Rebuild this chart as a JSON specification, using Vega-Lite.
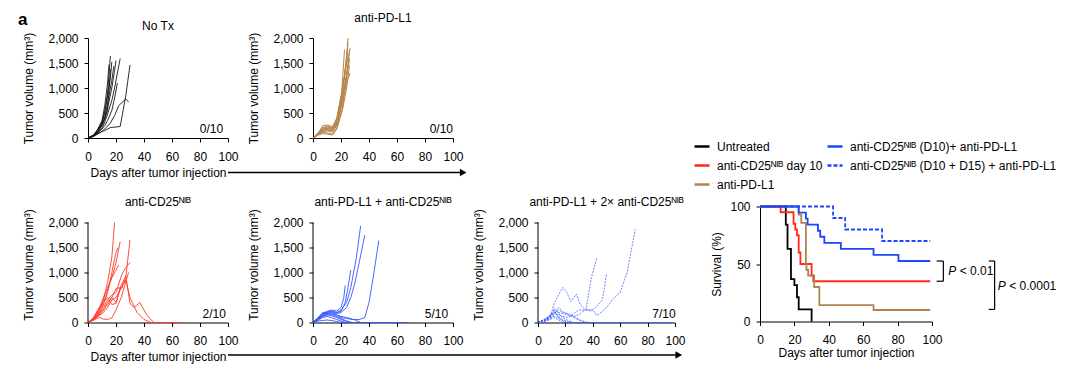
{
  "$schema": "https://vega.github.io/schema/vega-lite/v6.json",
  "padding": {"left": 18, "top": 10, "right": 2, "bottom": 2},
  "bounds": "flush",
  "columns": 4,
  "spacing": {"row": 68.5, "column": 85},
  "concat": [
    {
      "width": 140, "height": 100,
      "layer": [
        {"data": {"name": "notx"}, "mark": {"type": "line", "color": "#161616", "strokeWidth": 0.9},
         "encoding": {
           "x": {"field": "d", "type": "quantitative", "scale": {"domain": [0, 100]}, "axis": {"values": [0, 20, 40, 60, 80, 100], "tickCount": 12, "labelOverlap": false, "title": "Days after tumor injection"}},
           "y": {"field": "v", "type": "quantitative", "scale": {"domain": [0, 2000]}, "axis": {"values": [0, 500, 1000, 1500, 2000], "tickCount": 12, "labelOverlap": false, "format": ",.0f", "title": "Tumor volume (mm³)"}},
           "detail": {"field": "m"}}},
        {"data": {"values": [{}]}, "mark": {"type": "text", "align": "right", "baseline": "middle"}, "encoding": {"x": {"datum": 96.5}, "y": {"datum": 190}, "text": {"value": "0/10"}}},
        {"data": {"values": [{}]}, "mark": {"type": "text", "align": "center", "baseline": "middle"}, "encoding": {"x": {"datum": 50}, "y": {"datum": 2250}, "text": {"value": "No Tx"}}},
        {"data": {"values": [{}]}, "mark": {"type": "rule", "color": "#000", "strokeWidth": 1.3}, "encoding": {"x": {"datum": 100}, "x2": {"datum": 266}, "y": {"datum": -690}}},
        {"data": {"values": [{}]}, "mark": {"type": "point", "shape": "triangle-right", "filled": true, "color": "#000", "size": 60, "opacity": 1}, "encoding": {"x": {"datum": 268}, "y": {"datum": -690}}},
        {"data": {"values": [{}]}, "mark": {"type": "text", "align": "left", "baseline": "middle", "fontWeight": "bold", "fontSize": 17}, "encoding": {"x": {"datum": -50}, "y": {"datum": 2370}, "text": {"value": "a"}}}
      ]
    },
    {
      "width": 140, "height": 100,
      "title": {"text": "anti-PD-L1", "offset": 7},
      "layer": [
        {"data": {"name": "pdl1"}, "mark": {"type": "line", "color": "#b8844a", "strokeWidth": 1},
         "encoding": {
           "x": {"field": "d", "type": "quantitative", "scale": {"domain": [0, 100]}, "axis": {"values": [0, 20, 40, 60, 80, 100], "tickCount": 12, "labelOverlap": false, "title": null}},
           "y": {"field": "v", "type": "quantitative", "scale": {"domain": [0, 2000]}, "axis": {"values": [0, 500, 1000, 1500, 2000], "tickCount": 12, "labelOverlap": false, "format": ",.0f", "title": "Tumor volume (mm³)"}},
           "detail": {"field": "m"}}},
        {"data": {"values": [{}]}, "mark": {"type": "text", "align": "right", "baseline": "middle"}, "encoding": {"x": {"datum": 100}, "y": {"datum": 190}, "text": {"value": "0/10"}}}
      ]
    },
    {"width": 10, "height": 10, "data": {"values": []}, "mark": "point", "encoding": {}},
    {"width": 10, "height": 10, "data": {"values": []}, "mark": "point", "encoding": {}},
    {
      "width": 140, "height": 116,
      "title": {"text": "anti-CD25ᴺᴵᴮ", "offset": -2},
      "layer": [
        {"data": {"name": "cd25"}, "mark": {"type": "line", "color": "#ff3b2b", "strokeWidth": 0.9},
         "encoding": {
           "x": {"field": "d", "type": "quantitative", "scale": {"domain": [0, 100]}, "axis": {"values": [0, 20, 40, 60, 80, 100], "tickCount": 12, "labelOverlap": false, "title": "Days after tumor injection"}},
           "y": {"field": "v", "type": "quantitative", "scale": {"domain": [0, 2320], "nice": false}, "axis": {"values": [0, 500, 1000, 1500, 2000], "tickCount": 12, "labelOverlap": false, "format": ",.0f", "title": "Tumor volume (mm³)", "domain": false}},
           "detail": {"field": "m"}}},
        {"data": {"values": [{}]}, "mark": {"type": "rule", "color": "#000", "strokeWidth": 1}, "encoding": {"x": {"datum": 0}, "y": {"datum": 0}, "y2": {"datum": 2000}}},
        {"data": {"values": [{}]}, "mark": {"type": "text", "align": "right", "baseline": "middle"}, "encoding": {"x": {"datum": 98.5}, "y": {"datum": 170}, "text": {"value": "2/10"}}},
        {"data": {"values": [{}]}, "mark": {"type": "rule", "color": "#000", "strokeWidth": 1.3}, "encoding": {"x": {"datum": 100}, "x2": {"datum": 420}, "y": {"datum": -650}}},
        {"data": {"values": [{}]}, "mark": {"type": "point", "shape": "triangle-right", "filled": true, "color": "#000", "size": 60, "opacity": 1}, "encoding": {"x": {"datum": 422}, "y": {"datum": -650}}}
      ]
    },
    {
      "width": 140, "height": 116,
      "title": {"text": "anti-PD-L1 + anti-CD25ᴺᴵᴮ", "offset": -2},
      "layer": [
        {"data": {"name": "combo"}, "mark": {"type": "line", "color": "#3656ff", "strokeWidth": 0.9},
         "encoding": {
           "x": {"field": "d", "type": "quantitative", "scale": {"domain": [0, 100]}, "axis": {"values": [0, 20, 40, 60, 80, 100], "tickCount": 12, "labelOverlap": false, "title": null}},
           "y": {"field": "v", "type": "quantitative", "scale": {"domain": [0, 2320], "nice": false}, "axis": {"values": [0, 500, 1000, 1500, 2000], "tickCount": 12, "labelOverlap": false, "format": ",.0f", "title": "Tumor volume (mm³)", "domain": false}},
           "detail": {"field": "m"}}},
        {"data": {"values": [{}]}, "mark": {"type": "rule", "color": "#000", "strokeWidth": 1}, "encoding": {"x": {"datum": 0}, "y": {"datum": 0}, "y2": {"datum": 2000}}},
        {"data": {"values": [{}]}, "mark": {"type": "text", "align": "right", "baseline": "middle"}, "encoding": {"x": {"datum": 96.5}, "y": {"datum": 170}, "text": {"value": "5/10"}}}
      ]
    },
    {
      "width": 137, "height": 116,
      "title": {"text": "anti-PD-L1 + 2× anti-CD25ᴺᴵᴮ", "offset": -2},
      "layer": [
        {"data": {"name": "combo2"}, "mark": {"type": "line", "color": "#4461ff", "strokeWidth": 0.8, "strokeDash": [2, 1.2]},
         "encoding": {
           "x": {"field": "d", "type": "quantitative", "scale": {"domain": [0, 100]}, "axis": {"values": [0, 20, 40, 60, 80, 100], "tickCount": 12, "labelOverlap": false, "title": null}},
           "y": {"field": "v", "type": "quantitative", "scale": {"domain": [0, 2320], "nice": false}, "axis": {"values": [0, 500, 1000, 1500, 2000], "tickCount": 12, "labelOverlap": false, "format": ",.0f", "title": "Tumor volume (mm³)", "domain": false}},
           "detail": {"field": "m"}}},
        {"data": {"values": [{}]}, "mark": {"type": "rule", "color": "#000", "strokeWidth": 1}, "encoding": {"x": {"datum": 0}, "y": {"datum": 0}, "y2": {"datum": 2000}}},
        {"data": {"values": [{}]}, "mark": {"type": "text", "align": "right", "baseline": "middle"}, "encoding": {"x": {"datum": 100.5}, "y": {"datum": 174}, "text": {"value": "7/10"}}}
      ]
    },
    {
      "width": 172, "height": 115,
      "layer": [
        {"data": {"name": "surv"}, "mark": {"type": "line", "interpolate": "step-after", "strokeWidth": 1.8},
         "encoding": {
           "x": {"field": "d", "type": "quantitative", "scale": {"domain": [0, 100]}, "axis": {"values": [0, 20, 40, 60, 80, 100], "tickCount": 12, "labelOverlap": false, "title": "Days after tumor injection", "titlePadding": 2}},
           "y": {"field": "s", "type": "quantitative", "scale": {"domain": [0, 100]}, "axis": {"values": [0, 50, 100], "tickCount": 12, "labelOverlap": false, "title": "Survival (%)", "titlePadding": 6}},
           "color": {"field": "g", "type": "nominal",
             "scale": {"domain": ["Untreated", "anti-CD25ᴺᴵᴮ day 10", "anti-PD-L1", "anti-CD25ᴺᴵᴮ (D10)+ anti-PD-L1", "anti-CD25ᴺᴵᴮ (D10 + D15) + anti-PD-L1"],
                       "range": ["#000000", "#ff2a1a", "#b08350", "#1f46ff", "#1f46ff"]},
             "legend": {"title": null, "orient": "none", "legendX": 605, "legendY": 99.5, "columns": 2, "symbolType": "stroke", "symbolSize": 225, "symbolStrokeWidth": 2.5, "labelFontSize": 12, "labelOffset": 6, "columnPadding": -1, "rowPadding": 4, "labelLimit": 400, "padding": 0}},
           "strokeDash": {"field": "g", "type": "nominal",
             "scale": {"domain": ["Untreated", "anti-CD25ᴺᴵᴮ day 10", "anti-PD-L1", "anti-CD25ᴺᴵᴮ (D10)+ anti-PD-L1", "anti-CD25ᴺᴵᴮ (D10 + D15) + anti-PD-L1"],
                       "range": [[1, 0], [1, 0], [1, 0], [1, 0], [4, 2]]},
             "legend": {"title": null, "orient": "none", "legendX": 605, "legendY": 99.5, "columns": 2, "symbolType": "stroke", "symbolSize": 225, "symbolStrokeWidth": 2.5, "labelFontSize": 12, "labelOffset": 6, "columnPadding": -1, "rowPadding": 4, "labelLimit": 400, "padding": 0}}
         }},
        {"data": {"name": "brackets"}, "mark": {"type": "rule", "color": "#000", "strokeWidth": 1.2},
         "encoding": {"x": {"field": "d", "type": "quantitative"}, "x2": {"field": "d2"}, "y": {"field": "s", "type": "quantitative"}, "y2": {"field": "s2"}}},
        {"data": {"name": "pvals"}, "mark": {"type": "text", "align": "left", "baseline": "middle", "fontStyle": "italic"},
         "encoding": {"x": {"field": "d", "type": "quantitative"}, "y": {"field": "s", "type": "quantitative"}, "text": {"value": "P"}}},
        {"data": {"name": "pvals"}, "mark": {"type": "text", "align": "left", "baseline": "middle", "dx": 11.5},
         "encoding": {"x": {"field": "d", "type": "quantitative"}, "y": {"field": "s", "type": "quantitative"}, "text": {"field": "t"}}}
      ]
    }
  ],
  "datasets": {
    "notx": [
      {"m":1,"d":0,"v":0},{"m":1,"d":4,"v":50},{"m":1,"d":7,"v":150},{"m":1,"d":10,"v":300},{"m":1,"d":12,"v":500},{"m":1,"d":14,"v":900},{"m":1,"d":16,"v":1640},
      {"m":2,"d":0,"v":0},{"m":2,"d":4,"v":60},{"m":2,"d":7,"v":180},{"m":2,"d":10,"v":350},{"m":2,"d":12,"v":650},{"m":2,"d":14,"v":1100},{"m":2,"d":15,"v":1470},
      {"m":3,"d":0,"v":0},{"m":3,"d":4,"v":40},{"m":3,"d":7,"v":120},{"m":3,"d":10,"v":250},{"m":3,"d":12,"v":400},{"m":3,"d":14,"v":600},{"m":3,"d":17,"v":1000},{"m":3,"d":19,"v":1350},{"m":3,"d":20,"v":1550},
      {"m":4,"d":0,"v":0},{"m":4,"d":4,"v":30},{"m":4,"d":7,"v":100},{"m":4,"d":10,"v":200},{"m":4,"d":12,"v":320},{"m":4,"d":14,"v":480},{"m":4,"d":17,"v":750},{"m":4,"d":19,"v":1000},{"m":4,"d":21,"v":1300},{"m":4,"d":23,"v":1590},
      {"m":5,"d":0,"v":0},{"m":5,"d":4,"v":50},{"m":5,"d":7,"v":130},{"m":5,"d":10,"v":280},{"m":5,"d":12,"v":420},{"m":5,"d":14,"v":700},{"m":5,"d":17,"v":1150},{"m":5,"d":18.5,"v":1440},
      {"m":6,"d":0,"v":0},{"m":6,"d":4,"v":40},{"m":6,"d":7,"v":110},{"m":6,"d":10,"v":180},{"m":6,"d":12,"v":250},{"m":6,"d":14,"v":350},{"m":6,"d":17,"v":550},{"m":6,"d":19,"v":800},{"m":6,"d":21,"v":1100},
      {"m":7,"d":0,"v":0},{"m":7,"d":5,"v":60},{"m":7,"d":9,"v":120},{"m":7,"d":12,"v":150},{"m":7,"d":16,"v":210},{"m":7,"d":20,"v":220},{"m":7,"d":23,"v":230},{"m":7,"d":27,"v":850},{"m":7,"d":30,"v":1460},
      {"m":8,"d":0,"v":0},{"m":8,"d":5,"v":50},{"m":8,"d":9,"v":110},{"m":8,"d":12,"v":180},{"m":8,"d":16,"v":300},{"m":8,"d":19,"v":450},{"m":8,"d":22,"v":650},{"m":8,"d":27,"v":780},{"m":8,"d":29,"v":720},
      {"m":9,"d":0,"v":0},{"m":9,"d":4,"v":40},{"m":9,"d":7,"v":150},{"m":9,"d":10,"v":250},{"m":9,"d":12,"v":380},{"m":9,"d":14,"v":560},{"m":9,"d":16,"v":1380},
      {"m":10,"d":0,"v":0},{"m":10,"d":4,"v":60},{"m":10,"d":7,"v":160},{"m":10,"d":10,"v":320},{"m":10,"d":12,"v":550},{"m":10,"d":14,"v":850},{"m":10,"d":16,"v":1200},{"m":10,"d":17,"v":1520}
    ],
    "pdl1": [
      {"m":1,"d":0,"v":0},{"m":1,"d":4,"v":120},{"m":1,"d":7,"v":200},{"m":1,"d":10,"v":220},{"m":1,"d":14,"v":200},{"m":1,"d":17,"v":350},{"m":1,"d":21,"v":900},{"m":1,"d":24,"v":1600},{"m":1,"d":25,"v":2000},
      {"m":2,"d":0,"v":0},{"m":2,"d":4,"v":100},{"m":2,"d":7,"v":180},{"m":2,"d":10,"v":200},{"m":2,"d":14,"v":180},{"m":2,"d":17,"v":300},{"m":2,"d":20,"v":700},{"m":2,"d":22.5,"v":1770},
      {"m":3,"d":0,"v":0},{"m":3,"d":4,"v":90},{"m":3,"d":7,"v":150},{"m":3,"d":10,"v":170},{"m":3,"d":14,"v":150},{"m":3,"d":17,"v":280},{"m":3,"d":21,"v":800},{"m":3,"d":24,"v":1300},{"m":3,"d":26.5,"v":1800},
      {"m":4,"d":0,"v":0},{"m":4,"d":4,"v":80},{"m":4,"d":7,"v":130},{"m":4,"d":10,"v":140},{"m":4,"d":14,"v":120},{"m":4,"d":17,"v":250},{"m":4,"d":21,"v":700},{"m":4,"d":24,"v":1100},{"m":4,"d":26.5,"v":1300},
      {"m":5,"d":0,"v":0},{"m":5,"d":4,"v":110},{"m":5,"d":7,"v":250},{"m":5,"d":10,"v":260},{"m":5,"d":14,"v":230},{"m":5,"d":17,"v":400},{"m":5,"d":21,"v":1000},{"m":5,"d":24,"v":1500},{"m":5,"d":26,"v":1700},
      {"m":6,"d":0,"v":0},{"m":6,"d":4,"v":70},{"m":6,"d":7,"v":110},{"m":6,"d":10,"v":100},{"m":6,"d":14,"v":80},{"m":6,"d":17,"v":200},{"m":6,"d":21,"v":600},{"m":6,"d":24,"v":1200},{"m":6,"d":26,"v":1600},
      {"m":7,"d":0,"v":0},{"m":7,"d":4,"v":100},{"m":7,"d":7,"v":170},{"m":7,"d":10,"v":190},{"m":7,"d":14,"v":170},{"m":7,"d":17,"v":320},{"m":7,"d":21,"v":850},{"m":7,"d":23,"v":1400},{"m":7,"d":25,"v":1900},
      {"m":8,"d":0,"v":0},{"m":8,"d":4,"v":60},{"m":8,"d":7,"v":90},{"m":8,"d":10,"v":80},{"m":8,"d":14,"v":60},{"m":8,"d":17,"v":180},{"m":8,"d":21,"v":550},{"m":8,"d":24,"v":1000},{"m":8,"d":26,"v":1450},
      {"m":9,"d":0,"v":0},{"m":9,"d":4,"v":90},{"m":9,"d":7,"v":210},{"m":9,"d":10,"v":230},{"m":9,"d":14,"v":210},{"m":9,"d":17,"v":380},{"m":9,"d":20,"v":800},{"m":9,"d":23,"v":1300},{"m":9,"d":25,"v":1750},
      {"m":10,"d":0,"v":0},{"m":10,"d":4,"v":75},{"m":10,"d":7,"v":140},{"m":10,"d":10,"v":160},{"m":10,"d":14,"v":140},{"m":10,"d":17,"v":260},{"m":10,"d":21,"v":750},{"m":10,"d":24,"v":1250},{"m":10,"d":26,"v":1550}
    ],
    "cd25": [
      {"m":1,"d":0,"v":0},{"m":1,"d":4,"v":80},{"m":1,"d":8,"v":250},{"m":1,"d":11,"v":450},{"m":1,"d":14,"v":800},{"m":1,"d":17,"v":1300},{"m":1,"d":19,"v":2000},
      {"m":2,"d":0,"v":0},{"m":2,"d":4,"v":70},{"m":2,"d":8,"v":220},{"m":2,"d":11,"v":400},{"m":2,"d":14,"v":650},{"m":2,"d":17,"v":900},{"m":2,"d":20,"v":1200},{"m":2,"d":23,"v":1620},
      {"m":3,"d":0,"v":0},{"m":3,"d":4,"v":60},{"m":3,"d":8,"v":200},{"m":3,"d":11,"v":350},{"m":3,"d":14,"v":600},{"m":3,"d":17,"v":1000},{"m":3,"d":20,"v":1400},{"m":3,"d":21.5,"v":1500},
      {"m":4,"d":0,"v":0},{"m":4,"d":4,"v":90},{"m":4,"d":8,"v":280},{"m":4,"d":11,"v":500},{"m":4,"d":14,"v":700},{"m":4,"d":17,"v":900},{"m":4,"d":20,"v":1050},{"m":4,"d":22,"v":1150},
      {"m":5,"d":0,"v":0},{"m":5,"d":4,"v":50},{"m":5,"d":8,"v":150},{"m":5,"d":11,"v":250},{"m":5,"d":14,"v":400},{"m":5,"d":17,"v":500},{"m":5,"d":20,"v":680},{"m":5,"d":24,"v":700},{"m":5,"d":27,"v":900},{"m":5,"d":30,"v":1650},
      {"m":6,"d":0,"v":0},{"m":6,"d":4,"v":60},{"m":6,"d":8,"v":180},{"m":6,"d":11,"v":300},{"m":6,"d":14,"v":450},{"m":6,"d":17,"v":550},{"m":6,"d":20,"v":600},{"m":6,"d":24,"v":950},{"m":6,"d":27,"v":1100},{"m":6,"d":30,"v":1200},
      {"m":7,"d":0,"v":0},{"m":7,"d":4,"v":70},{"m":7,"d":8,"v":160},{"m":7,"d":11,"v":250},{"m":7,"d":14,"v":350},{"m":7,"d":17,"v":500},{"m":7,"d":20,"v":400},{"m":7,"d":23,"v":700},{"m":7,"d":27,"v":930},{"m":7,"d":30,"v":380},{"m":7,"d":33,"v":300},{"m":7,"d":37,"v":400},{"m":7,"d":42,"v":150},{"m":7,"d":47,"v":0},{"m":7,"d":68,"v":0},
      {"m":8,"d":0,"v":0},{"m":8,"d":4,"v":60},{"m":8,"d":8,"v":140},{"m":8,"d":11,"v":200},{"m":8,"d":14,"v":300},{"m":8,"d":17,"v":450},{"m":8,"d":20,"v":500},{"m":8,"d":24,"v":700},{"m":8,"d":27,"v":850},{"m":8,"d":30,"v":500},{"m":8,"d":35,"v":200},{"m":8,"d":40,"v":60},{"m":8,"d":45,"v":0},{"m":8,"d":68,"v":0},
      {"m":9,"d":0,"v":0},{"m":9,"d":4,"v":50},{"m":9,"d":8,"v":100},{"m":9,"d":11,"v":70},{"m":9,"d":14,"v":60},{"m":9,"d":17,"v":90},{"m":9,"d":20,"v":250},{"m":9,"d":24,"v":520},{"m":9,"d":27,"v":820},{"m":9,"d":29,"v":1000},
      {"m":10,"d":0,"v":0},{"m":10,"d":4,"v":100},{"m":10,"d":8,"v":300},{"m":10,"d":11,"v":400},{"m":10,"d":14,"v":500},{"m":10,"d":17,"v":360},{"m":10,"d":20,"v":380},{"m":10,"d":23,"v":680},{"m":10,"d":25,"v":700}
    ],
    "combo": [
      {"m":1,"d":0,"v":0},{"m":1,"d":4,"v":100},{"m":1,"d":7,"v":180},{"m":1,"d":10,"v":200},{"m":1,"d":13,"v":220},{"m":1,"d":17,"v":200},{"m":1,"d":20,"v":250},{"m":1,"d":24,"v":400},{"m":1,"d":27,"v":700},{"m":1,"d":31,"v":1300},{"m":1,"d":34,"v":1930},
      {"m":2,"d":0,"v":0},{"m":2,"d":4,"v":90},{"m":2,"d":7,"v":150},{"m":2,"d":10,"v":180},{"m":2,"d":13,"v":200},{"m":2,"d":17,"v":180},{"m":2,"d":20,"v":200},{"m":2,"d":24,"v":300},{"m":2,"d":27,"v":500},{"m":2,"d":30,"v":800},{"m":2,"d":33,"v":1200},{"m":2,"d":37,"v":1750},
      {"m":3,"d":0,"v":0},{"m":3,"d":4,"v":80},{"m":3,"d":7,"v":140},{"m":3,"d":10,"v":190},{"m":3,"d":13,"v":170},{"m":3,"d":17,"v":150},{"m":3,"d":20,"v":100},{"m":3,"d":24,"v":80},{"m":3,"d":28,"v":60},{"m":3,"d":33,"v":60},{"m":3,"d":37,"v":100},{"m":3,"d":40,"v":400},{"m":3,"d":43,"v":900},{"m":3,"d":47,"v":1640},
      {"m":4,"d":0,"v":0},{"m":4,"d":4,"v":110},{"m":4,"d":7,"v":200},{"m":4,"d":10,"v":210},{"m":4,"d":13,"v":230},{"m":4,"d":17,"v":200},{"m":4,"d":20,"v":220},{"m":4,"d":23,"v":400},{"m":4,"d":25,"v":700},{"m":4,"d":27,"v":1050},
      {"m":5,"d":0,"v":0},{"m":5,"d":4,"v":100},{"m":5,"d":7,"v":170},{"m":5,"d":10,"v":220},{"m":5,"d":13,"v":250},{"m":5,"d":17,"v":230},{"m":5,"d":20,"v":300},{"m":5,"d":22,"v":500},{"m":5,"d":23,"v":740},
      {"m":6,"d":0,"v":0},{"m":6,"d":4,"v":90},{"m":6,"d":7,"v":190},{"m":6,"d":10,"v":180},{"m":6,"d":13,"v":160},{"m":6,"d":17,"v":120},{"m":6,"d":20,"v":80},{"m":6,"d":24,"v":30},{"m":6,"d":28,"v":0},{"m":6,"d":68,"v":0},
      {"m":7,"d":0,"v":0},{"m":7,"d":4,"v":70},{"m":7,"d":7,"v":120},{"m":7,"d":10,"v":150},{"m":7,"d":13,"v":140},{"m":7,"d":17,"v":100},{"m":7,"d":20,"v":60},{"m":7,"d":24,"v":20},{"m":7,"d":27,"v":0},{"m":7,"d":68,"v":0},
      {"m":8,"d":0,"v":0},{"m":8,"d":4,"v":50},{"m":8,"d":7,"v":100},{"m":8,"d":10,"v":120},{"m":8,"d":13,"v":100},{"m":8,"d":17,"v":60},{"m":8,"d":20,"v":30},{"m":8,"d":23,"v":0},{"m":8,"d":68,"v":0},
      {"m":9,"d":0,"v":0},{"m":9,"d":4,"v":30},{"m":9,"d":7,"v":40},{"m":9,"d":10,"v":50},{"m":9,"d":13,"v":40},{"m":9,"d":17,"v":20},{"m":9,"d":20,"v":0},{"m":9,"d":68,"v":0},
      {"m":10,"d":0,"v":0},{"m":10,"d":4,"v":80},{"m":10,"d":7,"v":130},{"m":10,"d":10,"v":160},{"m":10,"d":13,"v":200},{"m":10,"d":17,"v":150},{"m":10,"d":20,"v":120},{"m":10,"d":24,"v":100},{"m":10,"d":27,"v":80},{"m":10,"d":30,"v":50},{"m":10,"d":34,"v":0},{"m":10,"d":68,"v":0}
    ],
    "combo2": [
      {"m":1,"d":0,"v":0},{"m":1,"d":5,"v":50},{"m":1,"d":9,"v":120},{"m":1,"d":12,"v":400},{"m":1,"d":15,"v":550},{"m":1,"d":18,"v":700},{"m":1,"d":21,"v":600},{"m":1,"d":24,"v":420},{"m":1,"d":28,"v":570},{"m":1,"d":31,"v":350},{"m":1,"d":35,"v":250},{"m":1,"d":39,"v":900},{"m":1,"d":43,"v":1300},
      {"m":2,"d":0,"v":0},{"m":2,"d":5,"v":40},{"m":2,"d":9,"v":150},{"m":2,"d":12,"v":200},{"m":2,"d":15,"v":150},{"m":2,"d":18,"v":120},{"m":2,"d":22,"v":100},{"m":2,"d":26,"v":180},{"m":2,"d":30,"v":250},{"m":2,"d":35,"v":250},{"m":2,"d":39,"v":230},{"m":2,"d":43,"v":330},{"m":2,"d":47,"v":450},{"m":2,"d":50,"v":970},
      {"m":3,"d":0,"v":0},{"m":3,"d":5,"v":60},{"m":3,"d":9,"v":130},{"m":3,"d":12,"v":250},{"m":3,"d":15,"v":200},{"m":3,"d":18,"v":180},{"m":3,"d":22,"v":150},{"m":3,"d":26,"v":120},{"m":3,"d":30,"v":160},{"m":3,"d":35,"v":260},{"m":3,"d":40,"v":250},{"m":3,"d":43,"v":140},{"m":3,"d":47,"v":220},{"m":3,"d":51,"v":330},{"m":3,"d":55,"v":480},{"m":3,"d":60,"v":600},{"m":3,"d":65,"v":1000},{"m":3,"d":71,"v":1860},
      {"m":4,"d":0,"v":0},{"m":4,"d":5,"v":60},{"m":4,"d":9,"v":150},{"m":4,"d":12,"v":280},{"m":4,"d":15,"v":180},{"m":4,"d":18,"v":100},{"m":4,"d":22,"v":40},{"m":4,"d":26,"v":0},{"m":4,"d":98,"v":0},
      {"m":5,"d":0,"v":0},{"m":5,"d":5,"v":40},{"m":5,"d":9,"v":100},{"m":5,"d":12,"v":200},{"m":5,"d":15,"v":120},{"m":5,"d":18,"v":60},{"m":5,"d":22,"v":20},{"m":5,"d":25,"v":0},{"m":5,"d":98,"v":0},
      {"m":6,"d":0,"v":0},{"m":6,"d":5,"v":30},{"m":6,"d":9,"v":80},{"m":6,"d":12,"v":150},{"m":6,"d":15,"v":300},{"m":6,"d":18,"v":220},{"m":6,"d":22,"v":150},{"m":6,"d":26,"v":100},{"m":6,"d":30,"v":50},{"m":6,"d":34,"v":0},{"m":6,"d":98,"v":0},
      {"m":7,"d":0,"v":0},{"m":7,"d":5,"v":50},{"m":7,"d":9,"v":120},{"m":7,"d":12,"v":220},{"m":7,"d":15,"v":100},{"m":7,"d":18,"v":30},{"m":7,"d":21,"v":0},{"m":7,"d":98,"v":0},
      {"m":8,"d":0,"v":0},{"m":8,"d":5,"v":20},{"m":8,"d":9,"v":60},{"m":8,"d":12,"v":100},{"m":8,"d":15,"v":50},{"m":8,"d":18,"v":0},{"m":8,"d":98,"v":0},
      {"m":9,"d":0,"v":0},{"m":9,"d":5,"v":70},{"m":9,"d":9,"v":140},{"m":9,"d":12,"v":180},{"m":9,"d":15,"v":250},{"m":9,"d":18,"v":200},{"m":9,"d":22,"v":180},{"m":9,"d":26,"v":130},{"m":9,"d":30,"v":60},{"m":9,"d":34,"v":20},{"m":9,"d":37,"v":0},{"m":9,"d":98,"v":0},
      {"m":10,"d":0,"v":0},{"m":10,"d":5,"v":30},{"m":10,"d":9,"v":90},{"m":10,"d":12,"v":130},{"m":10,"d":15,"v":80},{"m":10,"d":18,"v":40},{"m":10,"d":22,"v":0},{"m":10,"d":98,"v":0}
    ],
    "surv": [
      {"g":"Untreated","d":0,"s":100},{"g":"Untreated","d":15,"s":84.2},{"g":"Untreated","d":16,"s":63.2},{"g":"Untreated","d":18,"s":36.8},{"g":"Untreated","d":20,"s":31.6},{"g":"Untreated","d":21.5,"s":21.1},{"g":"Untreated","d":22.5,"s":10.5},{"g":"Untreated","d":30,"s":0},
      {"g":"anti-CD25ᴺᴵᴮ day 10","d":0,"s":100},{"g":"anti-CD25ᴺᴵᴮ day 10","d":12,"s":95},{"g":"anti-CD25ᴺᴵᴮ day 10","d":19.5,"s":85},{"g":"anti-CD25ᴺᴵᴮ day 10","d":20.5,"s":80},{"g":"anti-CD25ᴺᴵᴮ day 10","d":21.5,"s":75},{"g":"anti-CD25ᴺᴵᴮ day 10","d":22.5,"s":60},{"g":"anti-CD25ᴺᴵᴮ day 10","d":23.5,"s":50},{"g":"anti-CD25ᴺᴵᴮ day 10","d":30,"s":40},{"g":"anti-CD25ᴺᴵᴮ day 10","d":31,"s":35},{"g":"anti-CD25ᴺᴵᴮ day 10","d":99,"s":35},
      {"g":"anti-PD-L1","d":0,"s":100},{"g":"anti-PD-L1","d":22.5,"s":92.9},{"g":"anti-PD-L1","d":24,"s":85.7},{"g":"anti-PD-L1","d":26.7,"s":50},{"g":"anti-PD-L1","d":27,"s":45},{"g":"anti-PD-L1","d":28,"s":40},{"g":"anti-PD-L1","d":31.5,"s":30},{"g":"anti-PD-L1","d":34.5,"s":14.3},{"g":"anti-PD-L1","d":66,"s":10},{"g":"anti-PD-L1","d":99,"s":10},
      {"g":"anti-CD25ᴺᴵᴮ (D10)+ anti-PD-L1","d":0,"s":100},{"g":"anti-CD25ᴺᴵᴮ (D10)+ anti-PD-L1","d":22.5,"s":94.7},{"g":"anti-CD25ᴺᴵᴮ (D10)+ anti-PD-L1","d":26.7,"s":89.5},{"g":"anti-CD25ᴺᴵᴮ (D10)+ anti-PD-L1","d":27.7,"s":84.2},{"g":"anti-CD25ᴺᴵᴮ (D10)+ anti-PD-L1","d":33.7,"s":78.9},{"g":"anti-CD25ᴺᴵᴮ (D10)+ anti-PD-L1","d":35,"s":73.7},{"g":"anti-CD25ᴺᴵᴮ (D10)+ anti-PD-L1","d":37.4,"s":68.4},{"g":"anti-CD25ᴺᴵᴮ (D10)+ anti-PD-L1","d":47,"s":63.2},{"g":"anti-CD25ᴺᴵᴮ (D10)+ anti-PD-L1","d":66,"s":57.9},{"g":"anti-CD25ᴺᴵᴮ (D10)+ anti-PD-L1","d":80.5,"s":52.6},{"g":"anti-CD25ᴺᴵᴮ (D10)+ anti-PD-L1","d":99,"s":52.6},
      {"g":"anti-CD25ᴺᴵᴮ (D10 + D15) + anti-PD-L1","d":0,"s":100},{"g":"anti-CD25ᴺᴵᴮ (D10 + D15) + anti-PD-L1","d":42.5,"s":90},{"g":"anti-CD25ᴺᴵᴮ (D10 + D15) + anti-PD-L1","d":49.5,"s":80},{"g":"anti-CD25ᴺᴵᴮ (D10 + D15) + anti-PD-L1","d":71,"s":70},{"g":"anti-CD25ᴺᴵᴮ (D10 + D15) + anti-PD-L1","d":99,"s":70}
    ],
    "brackets": [
      {"d":102.7,"d2":106.6,"s":52.6,"s2":52.6},{"d":102.7,"d2":106.6,"s":35,"s2":35},{"d":106.6,"d2":106.6,"s":52.6,"s2":35},
      {"d":133,"d2":136.4,"s":52.6,"s2":52.6},{"d":133,"d2":136.4,"s":10.5,"s2":10.5},{"d":136.4,"d2":136.4,"s":52.6,"s2":10.5}
    ],
    "pvals": [
      {"d":109.4,"s":44.3,"t":"< 0.01"},{"d":138.2,"s":31.3,"t":"< 0.0001"}
    ]
  },
  "config": {
    "font": "Liberation Sans",
    "view": {"stroke": null},
    "axis": {"domainColor": "#000", "tickColor": "#000", "labelColor": "#000", "titleColor": "#000", "labelFontSize": 12, "titleFontSize": 12, "titleFontWeight": "normal", "grid": false, "tickSize": 4, "labelFont": "Liberation Sans", "titleFont": "Liberation Sans", "labelFlush": false, "labelOverlap": false, "domainWidth": 1, "tickWidth": 1},
    "axisY": {"titlePadding": 12, "labelPadding": 6},
    "axisX": {"titlePadding": 5, "labelPadding": 9, "labelAngle": 0},
    "title": {"fontSize": 12, "fontWeight": "normal", "font": "Liberation Sans", "color": "#000"},
    "text": {"font": "Liberation Sans", "fontSize": 12, "color": "#000"},
    "legend": {"labelFont": "Liberation Sans", "labelColor": "#000"}
  }
}
